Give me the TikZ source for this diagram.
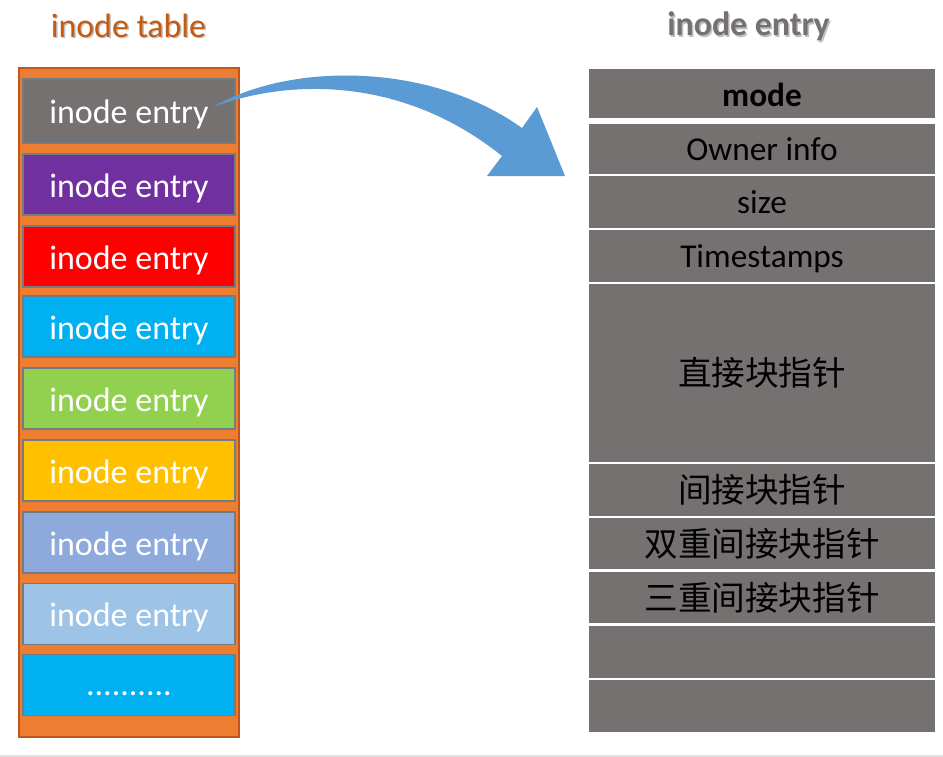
\documentclass[tikz,border=0pt]{standalone}
\usepackage{fontspec}
\setmainfont{Carlito}
\newfontfamily\cjk{Noto Sans CJK SC}
\definecolor{ogfill}{HTML}{ED7D31}
\definecolor{ogdraw}{HTML}{C0561A}
\definecolor{titleog}{HTML}{C55A11}
\definecolor{gbox}{HTML}{767171}
\definecolor{bxborder}{HTML}{737B84}
\definecolor{cpurple}{HTML}{7030A0}
\definecolor{cred}{HTML}{FF0000}
\definecolor{ccyan}{HTML}{00B0F0}
\definecolor{cgreen}{HTML}{92D050}
\definecolor{cgold}{HTML}{FFC000}
\definecolor{cbgray}{HTML}{8EA9DB}
\definecolor{clblue}{HTML}{9DC3E6}
\definecolor{arrowblue}{HTML}{5B9BD5}
\definecolor{rulegray}{HTML}{E0E0E0}
\begin{document}
\begin{tikzpicture}[x=0.75pt,y=-0.75pt,
  entrybox/.style={draw=bxborder,line width=1.2pt,inner sep=0pt,outer sep=0pt,
    minimum width=159pt,minimum height=46pt,text=white,font=\fontsize{25.5}{28}\selectfont,
    text height=20pt,text depth=1pt},
  rowbox/.style={fill=gbox,inner sep=0pt,outer sep=0pt,minimum width=259.5pt,
    font=\fontsize{25}{28}\selectfont,text=black,text height=18.5pt,text depth=2pt},
  cjkrow/.style={fill=gbox,inner sep=0pt,outer sep=0pt,minimum width=259.5pt,
    text=black,font=\cjk\fontsize{25.2}{28}\selectfont},
  titletext/.style={font=\fontsize{25.4}{28}\selectfont}]
\useasboundingbox (0,0) rectangle (943,757);
\fill[white] (0,0) rectangle (943,757);
% bottom rule
\draw[rulegray,line width=1.5pt] (0,755.5) -- (943,755.5);
% titles with soft shadow
\node[titletext,text=black!25] at (130,27) {inode table};
\node[titletext,text=titleog] (ttab) at (128.5,25.5) {inode table};
\node[titletext,text=black!25] at (750,28) {\bfseries inode entry};
\node[titletext,text=gbox] (tent) at (748.5,26.5) {\bfseries inode entry};
% inode table
\node[fill=ogfill,draw=ogdraw,line width=1.2pt,inner sep=0pt,minimum width=165pt,minimum height=501.75pt] (table) at (129,402.5) {};
\node[entrybox,fill=gbox,minimum height=48pt] (e1) at (129,111) {inode entry};
\node[entrybox,fill=cpurple] (e2) at (129,184.5) {inode entry};
\node[entrybox,fill=cred] (e3) at (129,256.5) {inode entry};
\node[entrybox,fill=ccyan] (e4) at (129,326.5) {inode entry};
\node[entrybox,fill=cgreen] (e5) at (129,398.5) {inode entry};
\node[entrybox,fill=cgold] (e6) at (129,470.5) {inode entry};
\node[entrybox,fill=cbgray] (e7) at (129,542.5) {inode entry};
\node[entrybox,fill=clblue] (e8) at (129,614) {inode entry};
\node[entrybox,fill=ccyan,text height=18pt,text depth=2pt] (e9) at (129,685) {..........};
% inode entry structure
\node[rowbox,minimum height=36.75pt,text height=20pt,text depth=1pt] (r1) at (762,93.5) {\bfseries mode};
\node[rowbox,minimum height=37.5pt] (r2) at (762,149) {Owner info};
\node[rowbox,minimum height=39pt] (r3) at (762,202) {size};
\node[rowbox,minimum height=39pt] (r4) at (762,256) {Timestamps};
\node[cjkrow,minimum height=133.5pt] (r5) at (762,373) {直接块指针};
\node[cjkrow,minimum height=39pt] (r6) at (762,490) {间接块指针};
\node[cjkrow,minimum height=38.25pt] (r7) at (762,543.5) {双重间接块指针};
\node[cjkrow,minimum height=38.25pt] (r8) at (762,597.5) {三重间接块指针};
\node[rowbox,minimum height=39pt] (r9) at (762,652) {};
\node[rowbox,minimum height=39pt] (r10) at (762,706) {};
% curved block arrow
\coordinate (astart) at (213,107);
\coordinate (aup) at (522,128);
\coordinate (hup) at (537,107);
\coordinate (htip) at (565,176);
\coordinate (hlow) at (487,176);
\coordinate (alow) at (502,156);
\fill[arrowblue] (astart) .. controls (290,62) and (430,62) .. (aup)
  -- (hup) -- (htip) -- (hlow) -- (alow)
  .. controls (400,74) and (285,80) .. (astart) -- cycle;
\end{tikzpicture}
\end{document}
